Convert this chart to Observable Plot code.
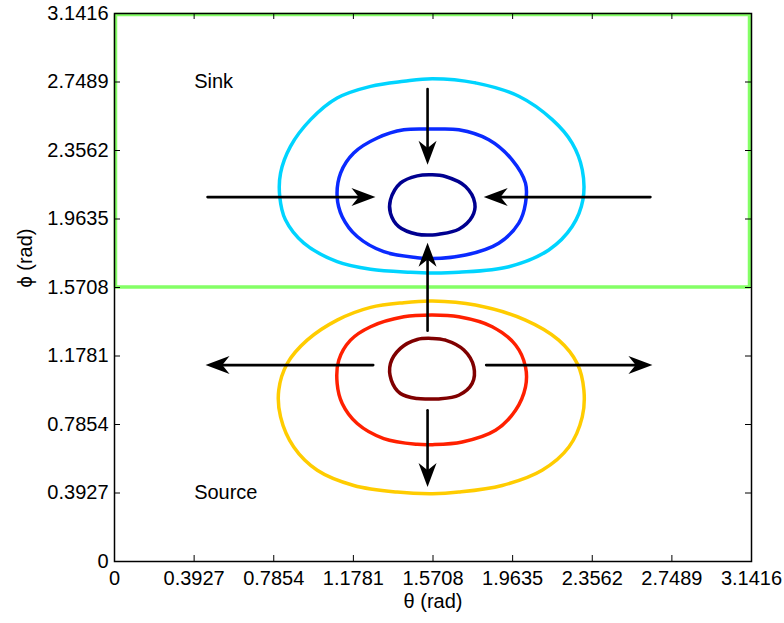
<!DOCTYPE html>
<html>
<head>
<meta charset="utf-8">
<script src="https://cdn.jsdelivr.net/npm/d3@7"></script>
<script src="https://cdn.jsdelivr.net/npm/@observablehq/plot@0.6"></script>
<style>
  body { margin: 0; background: #fff; }
  #chart svg { display: block; }
</style>
</head>
<body>
<div id="chart"></div>
<script>
// Tick labels shared by both axes (multiples of pi/8, in radians)
const tickLabels = ["0", "0.3927", "0.7854", "1.1781", "1.5708", "1.9635", "2.3562", "2.7489", "3.1416"];

// Level curves around the sink (upper half), [theta, phi]
const sinkOuter = [
  [1.568, 2.768], [1.780, 2.744], [1.994, 2.667], [2.159, 2.533], [2.257, 2.399], [2.307, 2.246],
  [2.310, 2.073], [2.257, 1.920], [2.142, 1.786], [1.945, 1.690], [1.698, 1.658], [1.568, 1.654],
  [1.460, 1.658], [1.263, 1.675], [1.098, 1.719], [0.934, 1.825], [0.843, 1.959], [0.815, 2.092],
  [0.819, 2.227], [0.868, 2.380], [0.967, 2.533], [1.098, 2.657], [1.263, 2.724], [1.427, 2.753]
];
const sinkMiddle = [
  [1.568, 2.479], [1.698, 2.475], [1.846, 2.418], [1.961, 2.303], [2.027, 2.169], [2.027, 2.054],
  [1.994, 1.940], [1.895, 1.825], [1.731, 1.757], [1.568, 1.737], [1.493, 1.742], [1.328, 1.776],
  [1.197, 1.863], [1.123, 1.977], [1.098, 2.092], [1.115, 2.227], [1.180, 2.342], [1.296, 2.428],
  [1.427, 2.475]
];
const sinkInner = [
  [1.568, 2.217], [1.632, 2.207], [1.731, 2.150], [1.777, 2.054], [1.764, 1.977], [1.698, 1.905],
  [1.599, 1.876], [1.568, 1.872], [1.493, 1.876], [1.402, 1.920], [1.361, 1.997], [1.361, 2.073],
  [1.410, 2.169], [1.493, 2.211]
];

// Level curves around the source (lower half), [theta, phi]
const sourceOuter = [
  [1.568, 1.493], [1.780, 1.470], [2.027, 1.384], [2.191, 1.269], [2.282, 1.135], [2.315, 0.982],
  [2.307, 0.829], [2.241, 0.656], [2.109, 0.523], [1.912, 0.436], [1.698, 0.398], [1.568, 0.389],
  [1.394, 0.398], [1.180, 0.436], [1.000, 0.523], [0.884, 0.656], [0.819, 0.829], [0.810, 0.982],
  [0.852, 1.135], [0.950, 1.269], [1.098, 1.384], [1.263, 1.457], [1.427, 1.484]
];
const sourceMiddle = [
  [1.568, 1.413], [1.698, 1.403], [1.863, 1.346], [1.978, 1.241], [2.027, 1.116], [2.027, 1.001],
  [1.978, 0.867], [1.879, 0.752], [1.715, 0.685], [1.568, 0.670], [1.493, 0.672], [1.328, 0.705],
  [1.197, 0.791], [1.123, 0.906], [1.098, 1.021], [1.106, 1.154], [1.164, 1.269], [1.263, 1.346],
  [1.427, 1.403]
];
const sourceInner = [
  [1.568, 1.279], [1.632, 1.269], [1.723, 1.212], [1.772, 1.116], [1.764, 1.021], [1.698, 0.953],
  [1.599, 0.932], [1.568, 0.932], [1.493, 0.934], [1.410, 0.963], [1.365, 1.040], [1.361, 1.135],
  [1.410, 1.222], [1.493, 1.273]
];

// Flow arrows: [theta tail, phi tail, theta tip, phi tip]
const arrows = [
  [1.544, 2.709, 1.544, 2.274],
  [0.459, 2.089, 1.287, 2.089],
  [2.643, 2.089, 1.821, 2.089],
  [1.544, 1.323, 1.544, 1.828],
  [1.276, 1.126, 0.449, 1.126],
  [1.833, 1.126, 2.653, 1.126],
  [1.544, 0.867, 1.544, 0.427]
];

// Region names and their anchor points
const regionNames = ["Sink", "Source"];
const regionTheta = [0.3927, 0.3927];
const regionPhi = [2.7489, 0.3927];

// Sink half of the domain: [theta1, phi1, theta2, phi2]
const sinkBox = [0, 1.5708, 3.1416, 3.1416];

const W = 784, H = 623;
const M = {top: 13, right: 33, bottom: 62, left: 114};
const innerW = W - M.left - M.right;
const innerH = H - M.top - M.bottom;
const tickLen = 6;
const font = "'Liberation Sans', Arial, Helvetica, sans-serif";

const tickValues = tickLabels.map(Number);
const fmt = d => tickLabels[tickValues.indexOf(d)];

const contour = (pts, color) => Plot.line(pts, {
  x: d => d[0], y: d => d[1],
  curve: "catmull-rom-closed",
  stroke: color, strokeWidth: 3.5, strokeLinejoin: "round"
});

// Filled, notched arrow head pointing along +x; tip at the origin
const arrowHead = {
  draw(ctx, size) {
    const L = 2 * Math.sqrt(size / Math.PI);
    ctx.moveTo(0, 0);
    ctx.lineTo(-L, -0.375 * L);
    ctx.lineTo(-0.7 * L, 0);
    ctx.lineTo(-L, 0.375 * L);
    ctx.closePath();
  }
};
const headAngle = d => d[1] === d[3] ? (d[2] > d[0] ? 0 : 180) : (d[3] > d[1] ? -90 : 90);

const labels = regionNames.map((name, i) => ({name, theta: regionTheta[i], phi: regionPhi[i]}));

const chart = Plot.plot({
  width: W,
  height: H,
  marginTop: M.top,
  marginRight: M.right,
  marginBottom: M.bottom,
  marginLeft: M.left,
  style: {fontFamily: font, fontSize: "20px", background: "#fff", color: "#000"},
  x: {domain: [0, 3.1416]},
  y: {domain: [0, 3.1416]},
  marks: [
    contour(sinkOuter, "#00d4ff"),
    contour(sinkMiddle, "#0a2aff"),
    contour(sinkInner, "#000090"),
    contour(sourceOuter, "#ffcc00"),
    contour(sourceMiddle, "#ff2000"),
    contour(sourceInner, "#800000"),
    Plot.rect([sinkBox], {
      x1: d => d[0], y1: d => d[1], x2: d => d[2], y2: d => d[3],
      fill: "none", stroke: "#84ff66", strokeWidth: 3.5, strokeLinejoin: "round",
      insetTop: 1.5, insetLeft: 1.5, insetRight: 1.5, insetBottom: 0
    }),
    Plot.arrow(arrows, {
      x1: d => d[0], y1: d => d[1], x2: d => d[2], y2: d => d[3],
      headLength: 0, insetEnd: 12, stroke: "black", strokeWidth: 2.6
    }),
    Plot.dot(arrows, {
      x: d => d[2], y: d => d[3], symbol: arrowHead, r: 12,
      rotate: headAngle, fill: "black", stroke: "none"
    }),
    Plot.text(labels, {
      x: "theta", y: "phi", text: "name", textAnchor: "start",
      fontSize: 20, fill: "black"
    }),
    // inward ticks on all four sides
    Plot.tickX(tickValues, {x: d => d, insetTop: innerH - tickLen, stroke: "black"}),
    Plot.tickX(tickValues, {x: d => d, insetBottom: innerH - tickLen, stroke: "black"}),
    Plot.tickY(tickValues, {y: d => d, insetRight: innerW - tickLen, stroke: "black"}),
    Plot.tickY(tickValues, {y: d => d, insetLeft: innerW - tickLen, stroke: "black"}),
    Plot.axisX(tickValues, {tickSize: 0, tickPadding: 9, tickFormat: fmt, fontSize: 20, label: null}),
    Plot.axisY(tickValues, {tickSize: 0, tickPadding: 6, tickFormat: fmt, fontSize: 20, label: null}),
    Plot.frame({stroke: "black", strokeWidth: 1.5}),
    Plot.text(["θ (rad)"], {text: d => d, frameAnchor: "bottom", dy: 46, fontSize: 20, fill: "black"}),
    Plot.text(["ϕ (rad)"], {text: d => d, frameAnchor: "left", dx: -89, rotate: -90, fontSize: 20, fill: "black"})
  ]
});

document.getElementById("chart").appendChild(chart);
</script>
</body>
</html>
